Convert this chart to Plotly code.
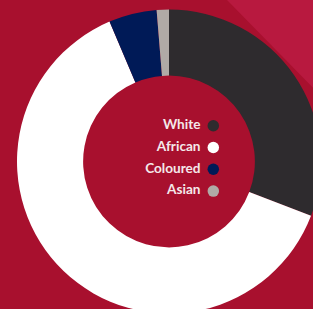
import plotly.graph_objects as go

categories = ["White", "African", "Coloured", "Asian"]
shares = [30.8, 62.8, 5.1, 1.3]
colors = ["#2e2b2e", "#ffffff", "#001a57", "#b0aaa6"]

W, H = 330, 320
bg = "#a8102e"
band = "#b8193f"

fig = go.Figure()

fig.add_trace(go.Pie(
    labels=categories, values=shares, sort=False, direction="clockwise", rotation=0,
    hole=0.565, marker=dict(colors=colors, line=dict(width=0)),
    textinfo="none", hoverinfo="skip", showlegend=False,
    domain=dict(x=[17 / W, 321 / W], y=[(H - 313.5) / H, (H - 9.5) / H]),
))

# legend dots
fig.add_trace(go.Scatter(
    x=[213.3] * len(categories), y=list(range(len(categories))),
    mode="markers", marker=dict(color=colors, size=11.5, line=dict(width=0)),
    hoverinfo="skip", showlegend=False, cliponaxis=False,
))
# legend labels
fig.add_trace(go.Scatter(
    x=[200.5] * len(categories), y=list(range(len(categories))),
    mode="text", text=categories, textposition="middle left",
    textfont=dict(family="Lato", size=13.6, color="#f4e8ea", weight="bold"),
    hoverinfo="skip", showlegend=False, cliponaxis=False,
))

r0 = -125.7 / 21.8
r1 = r0 + H / 21.8
fig.update_layout(
    width=W, height=H, margin=dict(l=0, r=0, t=0, b=0),
    paper_bgcolor=bg, plot_bgcolor="rgba(0,0,0,0)",
    xaxis=dict(range=[0, W], visible=False, domain=[0, 1], fixedrange=True),
    yaxis=dict(range=[r1, r0], visible=False, domain=[0, 1], fixedrange=True),
    shapes=[dict(type="path", xref="paper", yref="paper", layer="below",
                 path=f"M {227 / W} 1 L 1 1 L 1 {1 - 105 / H} Z",
                 fillcolor=band, line=dict(width=0))],
)

fig.write_html("out.html", config={"displayModeBar": False, "staticPlot": True},
               post_script="document.body.style.margin='0';document.body.style.overflow='hidden';document.documentElement.style.overflow='hidden';")
